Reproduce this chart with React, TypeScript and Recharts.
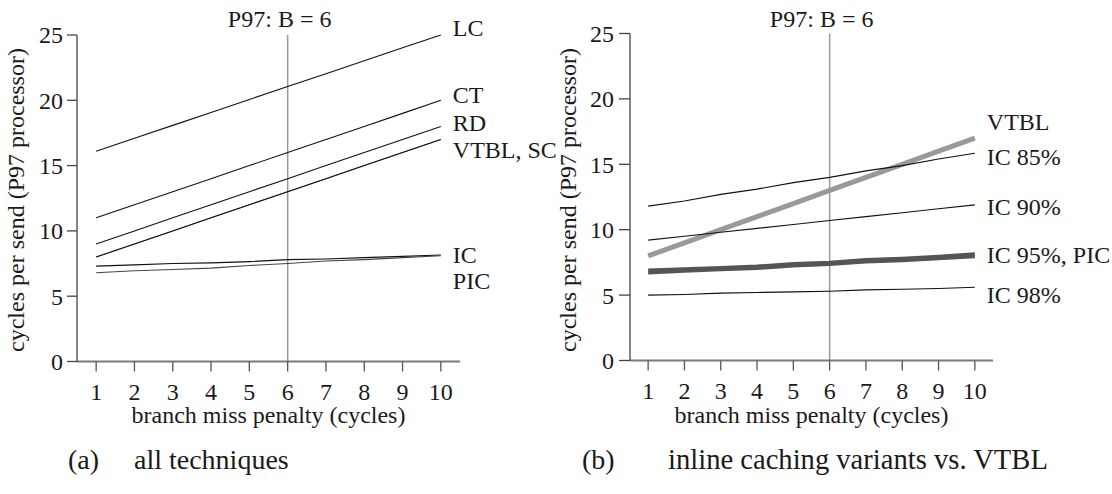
import React from 'react';
import { LineChart, Line, XAxis, YAxis, ReferenceLine, Label } from 'recharts';

const penalty = [1, 2, 3, 4, 5, 6, 7, 8, 9, 10];
const yTicks = [0, 5, 10, 15, 20, 25];

// (a) all techniques
const aLC = [16.1, 17.09, 18.08, 19.07, 20.06, 21.05, 22.04, 23.03, 24.02, 25.0];
const aCT = [11, 12, 13, 14, 15, 16, 17, 18, 19, 20];
const aRD = [9, 10, 11, 12, 13, 14, 15, 16, 17, 18];
const aVTBL = [8, 9, 10, 11, 12, 13, 14, 15, 16, 17];
const aSC = [8, 9, 10, 11, 12, 13, 14, 15, 16, 17];
const aIC = [7.3, 7.4, 7.5, 7.55, 7.65, 7.8, 7.85, 7.95, 8.05, 8.15];
const aPIC = [6.8, 6.95, 7.05, 7.15, 7.35, 7.5, 7.7, 7.8, 7.95, 8.1];

// (b) inline caching variants vs. VTBL
const bVTBL = [8, 9, 10, 11, 12, 13, 14, 15, 16, 17];
const bIC85 = [11.8, 12.2, 12.7, 13.1, 13.6, 14.0, 14.5, 14.9, 15.4, 15.85];
const bIC90 = [9.2, 9.5, 9.8, 10.1, 10.4, 10.7, 11.0, 11.3, 11.6, 11.9];
const bIC95 = [6.9, 7.0, 7.1, 7.2, 7.4, 7.5, 7.7, 7.8, 7.95, 8.15];
const bPIC = [6.7, 6.85, 6.95, 7.05, 7.25, 7.35, 7.55, 7.65, 7.8, 7.95];
const bIC98 = [5.0, 5.05, 5.15, 5.2, 5.25, 5.3, 5.4, 5.45, 5.5, 5.6];

const FONT = "'Liberation Serif', 'Times New Roman', serif";
const TXT = '#1a1a1a';

const dataA = penalty.map((p, i) => ({
  p,
  LC: aLC[i],
  CT: aCT[i],
  RD: aRD[i],
  VTBL: aVTBL[i],
  SC: aSC[i],
  IC: aIC[i],
  PIC: aPIC[i],
}));

const dataB = penalty.map((p, i) => ({
  p,
  VTBL: bVTBL[i],
  IC85: bIC85[i],
  IC90: bIC90[i],
  IC95: bIC95[i],
  PIC: bPIC[i],
  IC98: bIC98[i],
}));

const endLabel = (text: string | null, dy: number) => (props: any) => {
  const { x, y, index } = props;
  if (text === null || index !== penalty.length - 1) return null;
  return (
    <text
      key={text}
      x={x + 12}
      y={y + dy}
      dominantBaseline="central"
      fontFamily={FONT}
      fontSize={24}
      fill={TXT}
    >
      {text}
    </text>
  );
};

const refLabel = (props: any) => {
  const vb = props.viewBox || {};
  return (
    <text x={vb.x - 8} y={27} textAnchor="middle" fontFamily={FONT} fontSize={24} fill={TXT}>
      P97: B = 6
    </text>
  );
};

const makeYLabel = (cx: number) => (props: any) => {
  const cy = 200;
  return (
    <text
      x={cx}
      y={cy}
      transform={`rotate(-90 ${cx} ${cy})`}
      textAnchor="middle"
      fontFamily={FONT}
      fontSize={24}
      fill={TXT}
    >
      cycles per send (P97 processor)
    </text>
  );
};

const makeXLabel = (cx: number) => (props: any) => (
  <text x={cx} y={423} textAnchor="middle" fontFamily={FONT} fontSize={24} fill={TXT}>
    branch miss penalty (cycles)
  </text>
);

const XTick = (props: any) => {
  const { x, y, payload } = props;
  return (
    <text x={x} y={y} dy="0.71em" textAnchor="middle" fontFamily={FONT} fontSize={24} fill={TXT}>
      {payload.value}
    </text>
  );
};

const YTick = (props: any) => {
  const { x, y, payload } = props;
  return (
    <text x={x} y={y} dy="0.35em" textAnchor="end" fontFamily={FONT} fontSize={24} fill={TXT}>
      {payload.value}
    </text>
  );
};

const thin = { stroke: '#111', strokeWidth: 1.1 };

function ChartA() {
  return (
    <LineChart width={556} height={494} data={dataA} margin={{ top: 35, right: 96, bottom: 0, left: 0 }}>
      <XAxis
        dataKey="p"
        type="number"
        domain={[0.5, 10.5]}
        ticks={penalty}
        allowDataOverflow
        height={132.5}
        tickSize={10}
        tickMargin={11}
        tick={<XTick />}
        axisLine={{ stroke: '#7a7a7a', strokeWidth: 2 }}
        tickLine={{ stroke: '#555', strokeWidth: 1.3 }}
      >
        <Label content={makeXLabel(268.5)} />
      </XAxis>
      <YAxis
        type="number"
        domain={[0, 25]}
        ticks={yTicks}
        width={77}
        tickSize={10}
        tickMargin={4}
        tick={<YTick />}
        axisLine={{ stroke: '#444', strokeWidth: 1.3 }}
        tickLine={{ stroke: '#444', strokeWidth: 1.3 }}
      >
        <Label content={makeYLabel(24)} />
      </YAxis>
      <ReferenceLine x={6} stroke="#9a9a9a" strokeWidth={1.5} label={refLabel} />
      <Line dataKey="LC" {...thin} dot={false} activeDot={false} isAnimationActive={false} label={endLabel('LC', -7.5)} />
      <Line dataKey="CT" {...thin} dot={false} activeDot={false} isAnimationActive={false} label={endLabel('CT', -5)} />
      <Line dataKey="RD" {...thin} dot={false} activeDot={false} isAnimationActive={false} label={endLabel('RD', -3.5)} />
      <Line dataKey="VTBL" {...thin} dot={false} activeDot={false} isAnimationActive={false} label={endLabel('VTBL, SC', 10.5)} />
      <Line dataKey="SC" stroke="#111" strokeWidth={0.6} dot={false} activeDot={false} isAnimationActive={false} />
      <Line dataKey="IC" {...thin} dot={false} activeDot={false} isAnimationActive={false} label={endLabel('IC', 0)} />
      <Line dataKey="PIC" stroke="#444" strokeWidth={1.1} dot={false} activeDot={false} isAnimationActive={false} label={endLabel('PIC', 25)} />
    </LineChart>
  );
}

function ChartB() {
  return (
    <LineChart width={556} height={494} data={dataB} margin={{ top: 33.5, right: 119, bottom: 0, left: 0 }}>
      <XAxis
        dataKey="p"
        type="number"
        domain={[0.5, 10.5]}
        ticks={penalty}
        allowDataOverflow
        height={133.5}
        tickSize={10}
        tickMargin={11}
        tick={<XTick />}
        axisLine={{ stroke: '#7a7a7a', strokeWidth: 2 }}
        tickLine={{ stroke: '#555', strokeWidth: 1.3 }}
      >
        <Label content={makeXLabel(255.5)} />
      </XAxis>
      <YAxis
        type="number"
        domain={[0, 25]}
        ticks={yTicks}
        width={74}
        tickSize={11}
        tickMargin={5}
        tick={<YTick />}
        axisLine={{ stroke: '#444', strokeWidth: 1.3 }}
        tickLine={{ stroke: '#444', strokeWidth: 1.3 }}
      >
        <Label content={makeYLabel(20)} />
      </YAxis>
      <ReferenceLine x={6} stroke="#9a9a9a" strokeWidth={1.5} label={refLabel} />
      <Line dataKey="VTBL" stroke="#999" strokeWidth={5} dot={false} activeDot={false} isAnimationActive={false} label={endLabel('VTBL', -16)} />
      <Line dataKey="IC85" {...thin} dot={false} activeDot={false} isAnimationActive={false} label={endLabel('IC 85%', 4)} />
      <Line dataKey="IC90" {...thin} dot={false} activeDot={false} isAnimationActive={false} label={endLabel('IC 90%', 2)} />
      <Line dataKey="IC95" stroke="#555" strokeWidth={3.5} dot={false} activeDot={false} isAnimationActive={false} label={endLabel('IC 95%, PIC', 1)} />
      <Line dataKey="PIC" stroke="#555" strokeWidth={3.5} dot={false} activeDot={false} isAnimationActive={false} />
      <Line dataKey="IC98" {...thin} dot={false} activeDot={false} isAnimationActive={false} label={endLabel('IC 98%', 8)} />
    </LineChart>
  );
}

export default function App() {
  return (
    <div style={{ position: 'absolute', left: 0, top: 0, width: 1112, height: 494, background: '#fff', overflow: 'hidden' }}>
      <div style={{ position: 'absolute', left: 0, top: 0 }}>
        <ChartA />
      </div>
      <div style={{ position: 'absolute', left: 556, top: 0 }}>
        <ChartB />
      </div>
      <svg width={1112} height={494} style={{ position: 'absolute', left: 0, top: 0, pointerEvents: 'none' }}>
        <text x={68} y={469} fontFamily={FONT} fontSize={28} fill={TXT}>(a)</text>
        <text x={134} y={469} fontFamily={FONT} fontSize={28} fill={TXT}>all techniques</text>
        <text x={582} y={469} fontFamily={FONT} fontSize={28} fill={TXT}>(b)</text>
        <text x={668} y={469} fontFamily={FONT} fontSize={28.6} fill={TXT}>inline caching variants vs. VTBL</text>
      </svg>
    </div>
  );
}
